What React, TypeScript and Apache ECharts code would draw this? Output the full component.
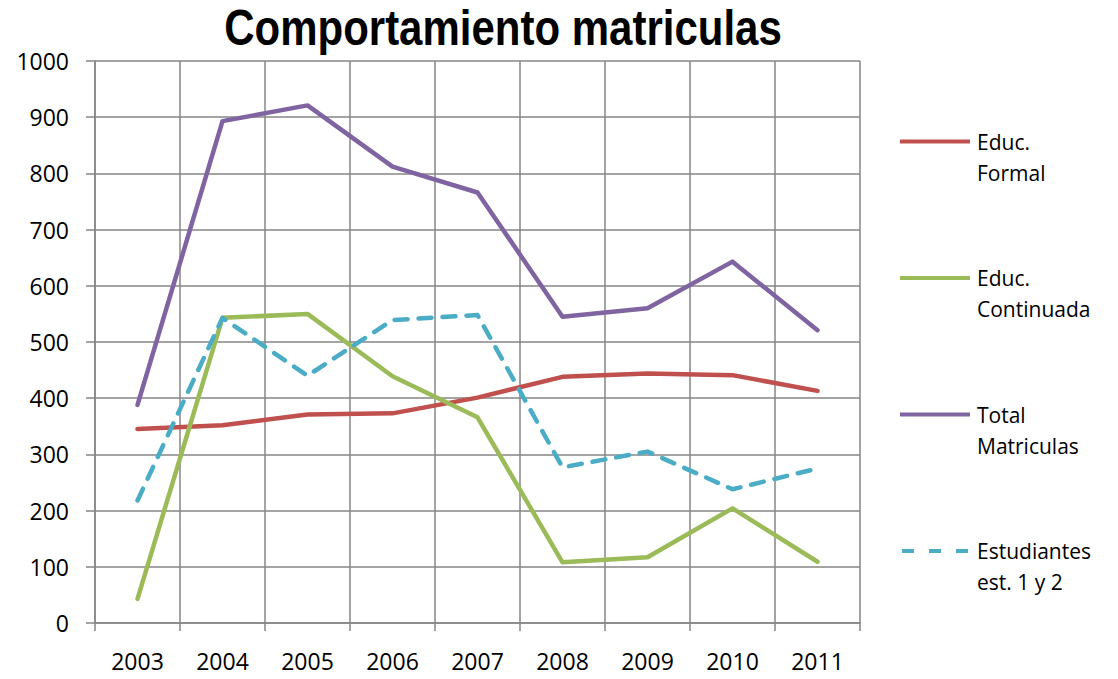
import React, { useEffect, useRef } from "react";
import * as echarts from "echarts";

const years = ["2003", "2004", "2005", "2006", "2007", "2008", "2009", "2010", "2011"];
const educFormal = [345, 352, 371, 373, 401, 438, 444, 441, 413];
const educContinuada = [43, 543, 550, 439, 366, 108, 117, 204, 109];
const totalMatriculas = [388, 893, 921, 812, 766, 545, 560, 643, 521];
const estudiantes = [218, 543, 440, 539, 548, 277, 305, 238, 275];
const seriesNames = ["Educ.\nFormal", "Educ.\nContinuada", "Total\nMatriculas", "Estudiantes\nest. 1 y 2"];
const titleText = "Comportamiento matriculas";

const FONT = "'Open Sans', 'Liberation Sans', Arial, sans-serif";
const SOLID_ICON = "path://M0,0H70V4H0Z";
const DASH_ICON = "path://M0,0H12V4H0Z M27,0H39V4H27Z M54,0H66V4H54Z";

export default function App() {
  const ref = useRef<HTMLDivElement>(null);
  useEffect(() => {
    document.body.style.margin = "0";
    const chart = echarts.init(ref.current!, null, { renderer: "svg" });
    const mk = (name: string, data: number[], color: string, dashed = false) => ({
      name,
      type: "line",
      data,
      symbol: "none",
      lineStyle: { color, width: 4.5, type: dashed ? [13, 11] : "solid", cap: "round", join: "round" },
      itemStyle: { color },
    });
    chart.setOption({
      animation: false,
      backgroundColor: "#ffffff",
      graphic: [
        {
          type: "text",
          x: 503,
          y: 28,
          scaleX: 0.857,
          originX: 0,
          style: {
            text: titleText,
            fontFamily: "'Liberation Sans', Arial, sans-serif",
            fontWeight: "bold",
            fontSize: 49,
            fill: "#000",
            align: "center",
            verticalAlign: "middle",
          },
        },
      ],
      grid: { left: 95, right: 258, top: 61, bottom: 56, containLabel: false },
      xAxis: {
        type: "category",
        data: years,
        boundaryGap: true,
        axisLine: { lineStyle: { color: "#868686", width: 1.5 } },
        axisTick: { show: true, length: 8, lineStyle: { color: "#868686", width: 1.5 } },
        axisLabel: { color: "#000", fontSize: 23, fontFamily: FONT, margin: 26 },
        splitLine: { show: true, lineStyle: { color: "#868686", width: 1.5 } },
      },
      yAxis: {
        type: "value",
        min: 0,
        max: 1000,
        interval: 100,
        axisLine: { show: true, lineStyle: { color: "#868686", width: 1.5 } },
        axisTick: { show: true, length: 9, lineStyle: { color: "#868686", width: 1.5 } },
        axisLabel: { color: "#000", fontSize: 23, fontFamily: FONT, margin: 26, formatter: (v: number) => String(v) },
        splitLine: { show: true, lineStyle: { color: "#868686", width: 1.5 } },
      },
      legend: {
        orient: "vertical",
        left: 900,
        top: 95,
        padding: 0,
        itemWidth: 70,
        itemHeight: 4,
        itemGap: 43.5,
        formatter: (n: string) => "\n" + n,
        textStyle: { color: "#000", fontSize: 21, fontFamily: FONT, lineHeight: 31, padding: [0, 0, 0, 2] },
        data: seriesNames.map((n, i) => ({ name: n, icon: i === 3 ? DASH_ICON : SOLID_ICON })),
      },
      series: [
        mk(seriesNames[0], educFormal, "#C0504D"),
        mk(seriesNames[1], educContinuada, "#9BBB59"),
        mk(seriesNames[2], totalMatriculas, "#8064A2"),
        mk(seriesNames[3], estudiantes, "#4BACC6", true),
      ],
    });
    return () => chart.dispose();
  }, []);
  return <div ref={ref} style={{ width: 1118, height: 679 }} />;
}
